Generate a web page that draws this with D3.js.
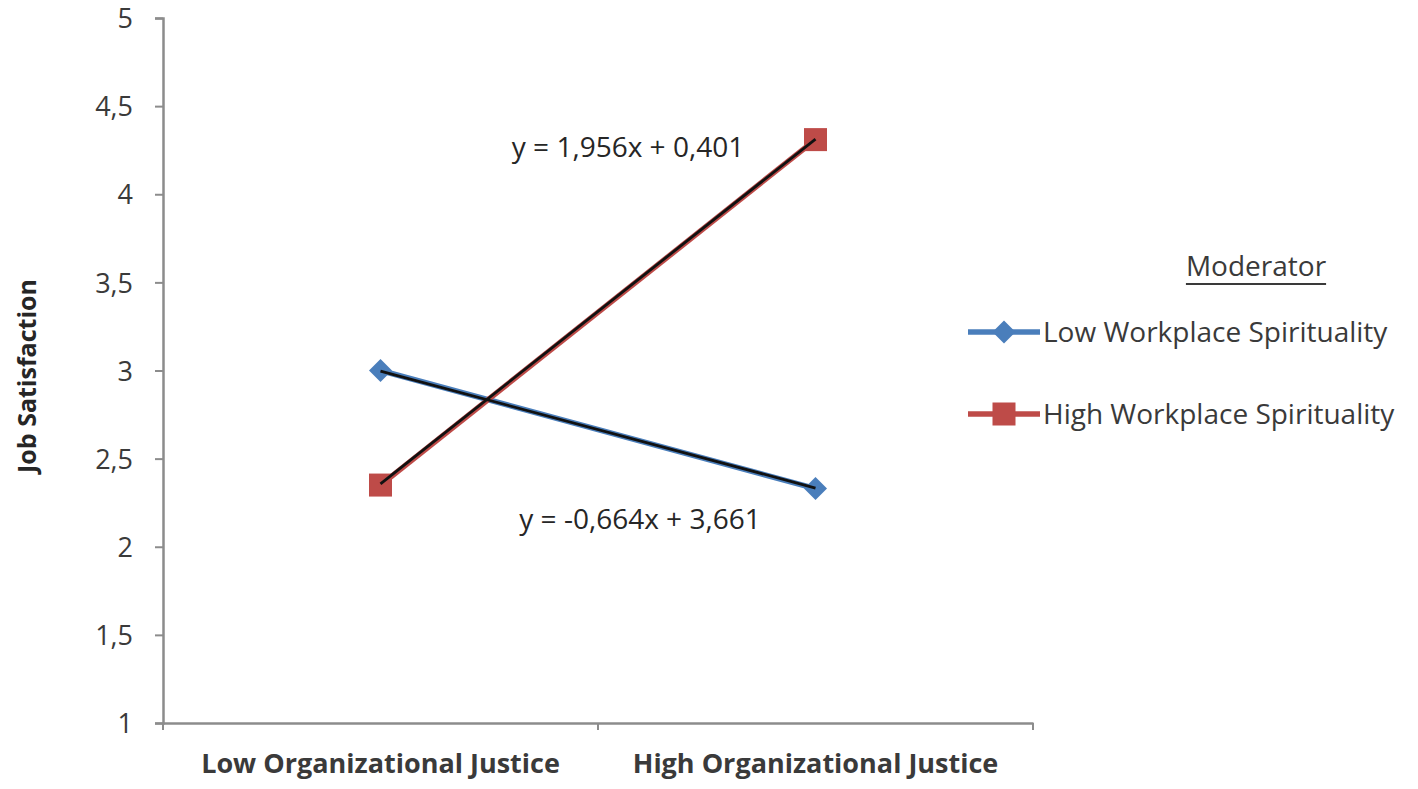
<!DOCTYPE html>
<html>
<head>
<meta charset="utf-8">
<script src="https://cdn.jsdelivr.net/npm/d3@7"></script>
<style>
  body { margin: 0; background: #fff; }
  svg text { font-family: "Open Sans", sans-serif; fill: #3a3a3a; }
</style>
</head>
<body>
<div id="chart"></div>
<script>
var categories = ["Low Organizational Justice", "High Organizational Justice"];
var seriesNames = ["Low Workplace Spirituality", "High Workplace Spirituality"];
var lowWS = [3.0, 2.33];
var highWS = [2.35, 4.31];
var trendSlopes = [-0.664, 1.956];
var trendIntercepts = [3.661, 0.401];
var trendLabels = ["y = -0,664x + 3,661", "y = 1,956x + 0,401"];
var yTicks = [1, 1.5, 2, 2.5, 3, 3.5, 4, 4.5, 5];

var color_blue = "#4a7ebb";
var color_red = "#be4b48";
var axis_color = "#8c8c8c";

var width = 1418, height = 789;
var svg = d3.select("#chart").append("svg")
    .attr("width", width)
    .attr("height", height);

var x = d3.scaleBand().domain(categories).range([163, 1033]);
var y = d3.scaleLinear().domain([1, 5]).range([723, 18]);
var fmt = d => String(d).replace(".", ",");

//y axis
var yAxis = svg.append("g")
    .attr("transform", "translate(163,0)")
    .call(d3.axisLeft(y).tickValues(yTicks).tickFormat(fmt).tickSize(8).tickPadding(22));
yAxis.select(".domain").attr("stroke", axis_color).attr("stroke-width", 2.5);
yAxis.selectAll(".tick line").attr("stroke", axis_color).attr("stroke-width", 2);
yAxis.selectAll(".tick text").attr("font-size", 27).attr("fill", "#3a3a3a")
    .attr("dy", "0.36em")
    .style("font-family", "'Open Sans', sans-serif");

//x axis
var xAxis = svg.append("g")
    .attr("transform", "translate(0,723)")
    .call(d3.axisBottom(x).tickSize(0).tickPadding(31));
xAxis.select(".domain").attr("stroke", axis_color).attr("stroke-width", 2.5);
xAxis.selectAll(".tick text").attr("font-size", 27).attr("font-weight", "bold")
    .attr("fill", "#262626").style("font-family", "'Open Sans', sans-serif");
// category boundary ticks
var bounds = [x.range()[0], x(categories[1]), x.range()[1]];
xAxis.selectAll("line.bound").data(bounds).enter().append("line")
    .attr("class", "bound")
    .attr("x1", d => d).attr("x2", d => d)
    .attr("y1", 0).attr("y2", 7)
    .attr("stroke", axis_color).attr("stroke-width", 2);

//y axis title
svg.append("text")
    .attr("transform", "translate(36,376) rotate(-90)")
    .attr("text-anchor", "middle")
    .attr("font-size", 25)
    .attr("font-weight", "bold")
    .style("fill", "#262626")
    .text("Job Satisfaction");

var cx = c => x(c) + x.bandwidth() / 2;
var line = d3.line().x((d, i) => cx(categories[i])).y(d => y(d));

var series = [
    {name: seriesNames[0], values: lowWS, color: color_blue, shape: "diamond"},
    {name: seriesNames[1], values: highWS, color: color_red, shape: "square"}
];

series.forEach((s, k) => {
    svg.append("path")
        .attr("d", line(s.values))
        .attr("fill", "none")
        .attr("stroke", s.color)
        .attr("stroke-width", 5.5);
});

function drawMarker(g, shape, color, px, py) {
    if (shape == "diamond") {
        g.append("path")
            .attr("d", `M${px},${py - 11.5}L${px + 11.5},${py}L${px},${py + 11.5}L${px - 11.5},${py}Z`)
            .attr("fill", color);
    } else {
        g.append("rect")
            .attr("x", px - 11.5).attr("y", py - 11.5)
            .attr("width", 23).attr("height", 23)
            .attr("fill", color);
    }
}

var marks = svg.append("g");
series.forEach(s => {
    s.values.forEach((v, i) => drawMarker(marks, s.shape, s.color, cx(categories[i]), y(v)));
});

//trend lines
series.forEach((s, k) => {
    var tv = [1, 2].map(t => trendSlopes[k] * t + trendIntercepts[k]);
    svg.append("path")
        .attr("d", line(tv))
        .attr("fill", "none")
        .attr("stroke", "#111")
        .attr("stroke-width", 2.8);
});

//equation labels
svg.append("text").attr("x", 640).attr("y", 529).attr("text-anchor", "middle")
    .attr("font-size", 28).style("fill", "#262626").text(trendLabels[0]);
svg.append("text").attr("x", 628).attr("y", 157).attr("text-anchor", "middle")
    .attr("font-size", 28).style("fill", "#262626").text(trendLabels[1]);

//legend
var legend = svg.append("g");
var title = legend.append("text").attr("x", 1256).attr("y", 276).attr("text-anchor", "middle")
    .attr("font-size", 28)
    .text("Moderator");
var tw = title.node().getComputedTextLength();
legend.append("line").attr("x1", 1256 - tw / 2).attr("x2", 1256 + tw / 2).attr("y1", 284).attr("y2", 284)
    .attr("stroke", "#3a3a3a").attr("stroke-width", 1.8);

var legendY = [332, 414];
series.forEach((s, k) => {
    var ly = legendY[k];
    legend.append("line").attr("x1", 968).attr("x2", 1040).attr("y1", ly).attr("y2", ly)
        .attr("stroke", s.color).attr("stroke-width", 5.5);
    drawMarker(legend, s.shape, s.color, 1004, ly);
    legend.append("text").attr("x", 1043).attr("y", ly + 10)
        .attr("font-size", 28).text(s.name);
});
</script>
</body>
</html>
